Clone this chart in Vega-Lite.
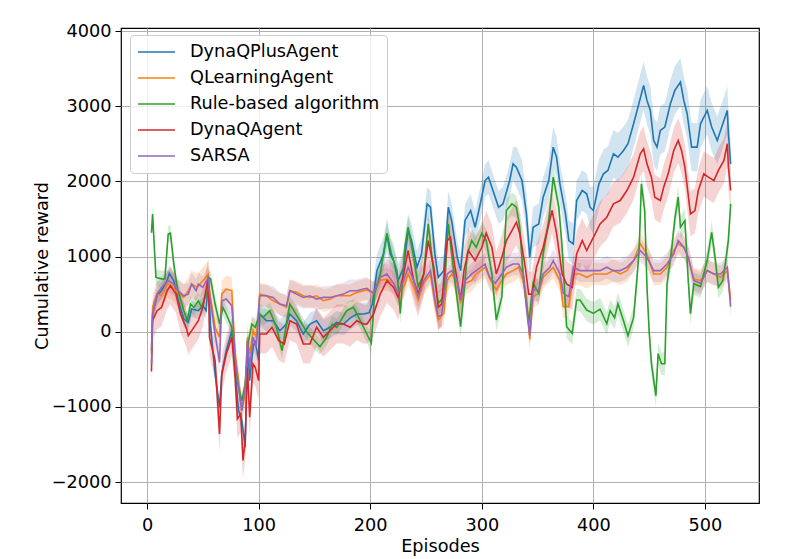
{
"$schema": "https://vega.github.io/schema/vega-lite/v6.json",
"width": 638, "height": 475,
"autosize": {"type": "none"},
"padding": {"left": 121, "top": 28, "right": 45, "bottom": 56},
"background": "white",
"config": {
 "font": "DejaVu Sans",
 "view": {"stroke": "black", "strokeWidth": 1.2},
 "axis": {"gridColor": "#b0b0b0", "gridWidth": 1, "gridOpacity": 1, "domain": false, "tickColor": "black", "tickSize": 6, "tickWidth": 1, "labelFontSize": 17.7, "labelColor": "black", "titleFontSize": 17.7, "titleFontWeight": "normal", "titleColor": "black", "labelFont": "DejaVu Sans", "titleFont": "DejaVu Sans"},
 "legend": {"orient": "none", "legendX": 9, "legendY": 7, "strokeColor": "#cccccc", "fillColor": "rgba(255,255,255,0.8)", "cornerRadius": 4, "padding": 7, "labelFontSize": 17.7, "labelColor": "black", "labelFont": "DejaVu Sans", "symbolType": "stroke", "symbolSize": 1369, "symbolStrokeWidth": 1.6, "labelOffset": 14, "rowPadding": 6, "clipHeight": 20, "labelLimit": 400}
},
"data": {"values": [
{"s":"DynaQPlusAgent","x":4,"y":-250,"e":110},{"s":"DynaQPlusAgent","x":5,"y":235,"e":110},{"s":"DynaQPlusAgent","x":9,"y":478,"e":110},{"s":"DynaQPlusAgent","x":13,"y":545,"e":110},{"s":"DynaQPlusAgent","x":18,"y":678,"e":110},{"s":"DynaQPlusAgent","x":20,"y":775,"e":110},{"s":"DynaQPlusAgent","x":24,"y":678,"e":110},{"s":"DynaQPlusAgent","x":28,"y":412,"e":110},{"s":"DynaQPlusAgent","x":33,"y":168,"e":110},{"s":"DynaQPlusAgent","x":37,"y":124,"e":110},{"s":"DynaQPlusAgent","x":40,"y":301,"e":110},{"s":"DynaQPlusAgent","x":46,"y":279,"e":110},{"s":"DynaQPlusAgent","x":50,"y":345,"e":110},{"s":"DynaQPlusAgent","x":53,"y":279,"e":110},{"s":"DynaQPlusAgent","x":55,"y":690,"e":110},{"s":"DynaQPlusAgent","x":57,"y":60,"e":110},{"s":"DynaQPlusAgent","x":61,"y":-563,"e":110},{"s":"DynaQPlusAgent","x":65,"y":-1006,"e":110},{"s":"DynaQPlusAgent","x":67,"y":-563,"e":110},{"s":"DynaQPlusAgent","x":71,"y":-252,"e":110},{"s":"DynaQPlusAgent","x":76,"y":13,"e":110},{"s":"DynaQPlusAgent","x":79,"y":-518,"e":110},{"s":"DynaQPlusAgent","x":82,"y":-1050,"e":110},{"s":"DynaQPlusAgent","x":85,"y":-1183,"e":110},{"s":"DynaQPlusAgent","x":88,"y":-1537,"e":110},{"s":"DynaQPlusAgent","x":90,"y":-120,"e":110},{"s":"DynaQPlusAgent","x":92,"y":-651,"e":110},{"s":"DynaQPlusAgent","x":95,"y":-208,"e":110},{"s":"DynaQPlusAgent","x":97,"y":-120,"e":110},{"s":"DynaQPlusAgent","x":100,"y":-385,"e":110},{"s":"DynaQPlusAgent","x":101,"y":235,"e":150},{"s":"DynaQPlusAgent","x":107,"y":146,"e":150},{"s":"DynaQPlusAgent","x":113,"y":146,"e":150},{"s":"DynaQPlusAgent","x":119,"y":13,"e":150},{"s":"DynaQPlusAgent","x":125,"y":102,"e":150},{"s":"DynaQPlusAgent","x":128,"y":235,"e":150},{"s":"DynaQPlusAgent","x":134,"y":146,"e":150},{"s":"DynaQPlusAgent","x":140,"y":-31,"e":150},{"s":"DynaQPlusAgent","x":146,"y":102,"e":150},{"s":"DynaQPlusAgent","x":152,"y":146,"e":150},{"s":"DynaQPlusAgent","x":158,"y":13,"e":150},{"s":"DynaQPlusAgent","x":164,"y":58,"e":150},{"s":"DynaQPlusAgent","x":170,"y":124,"e":150},{"s":"DynaQPlusAgent","x":176,"y":102,"e":150},{"s":"DynaQPlusAgent","x":182,"y":180,"e":150},{"s":"DynaQPlusAgent","x":188,"y":235,"e":150},{"s":"DynaQPlusAgent","x":194,"y":235,"e":150},{"s":"DynaQPlusAgent","x":199,"y":250,"e":150},{"s":"DynaQPlusAgent","x":202,"y":370,"e":220},{"s":"DynaQPlusAgent","x":206,"y":810,"e":220},{"s":"DynaQPlusAgent","x":212,"y":1035,"e":220},{"s":"DynaQPlusAgent","x":215,"y":1290,"e":220},{"s":"DynaQPlusAgent","x":218,"y":1035,"e":220},{"s":"DynaQPlusAgent","x":221,"y":945,"e":220},{"s":"DynaQPlusAgent","x":225,"y":680,"e":220},{"s":"DynaQPlusAgent","x":230,"y":857,"e":220},{"s":"DynaQPlusAgent","x":234,"y":1345,"e":220},{"s":"DynaQPlusAgent","x":237,"y":1212,"e":220},{"s":"DynaQPlusAgent","x":242,"y":857,"e":220},{"s":"DynaQPlusAgent","x":246,"y":1035,"e":220},{"s":"DynaQPlusAgent","x":251,"y":1700,"e":220},{"s":"DynaQPlusAgent","x":254,"y":1656,"e":220},{"s":"DynaQPlusAgent","x":258,"y":1035,"e":220},{"s":"DynaQPlusAgent","x":261,"y":724,"e":220},{"s":"DynaQPlusAgent","x":266,"y":812,"e":220},{"s":"DynaQPlusAgent","x":270,"y":1656,"e":220},{"s":"DynaQPlusAgent","x":273,"y":1480,"e":220},{"s":"DynaQPlusAgent","x":278,"y":990,"e":220},{"s":"DynaQPlusAgent","x":281,"y":812,"e":220},{"s":"DynaQPlusAgent","x":285,"y":1480,"e":220},{"s":"DynaQPlusAgent","x":290,"y":1612,"e":220},{"s":"DynaQPlusAgent","x":294,"y":1390,"e":220},{"s":"DynaQPlusAgent","x":298,"y":1656,"e":220},{"s":"DynaQPlusAgent","x":303,"y":2011,"e":220},{"s":"DynaQPlusAgent","x":306,"y":2056,"e":220},{"s":"DynaQPlusAgent","x":310,"y":1878,"e":220},{"s":"DynaQPlusAgent","x":315,"y":1656,"e":220},{"s":"DynaQPlusAgent","x":319,"y":1700,"e":220},{"s":"DynaQPlusAgent","x":325,"y":2011,"e":220},{"s":"DynaQPlusAgent","x":328,"y":2233,"e":220},{"s":"DynaQPlusAgent","x":331,"y":2189,"e":270},{"s":"DynaQPlusAgent","x":336,"y":2011,"e":270},{"s":"DynaQPlusAgent","x":340,"y":1567,"e":270},{"s":"DynaQPlusAgent","x":343,"y":990,"e":270},{"s":"DynaQPlusAgent","x":346,"y":1390,"e":270},{"s":"DynaQPlusAgent","x":351,"y":1434,"e":270},{"s":"DynaQPlusAgent","x":355,"y":1789,"e":270},{"s":"DynaQPlusAgent","x":360,"y":2011,"e":270},{"s":"DynaQPlusAgent","x":364,"y":2455,"e":270},{"s":"DynaQPlusAgent","x":367,"y":2322,"e":270},{"s":"DynaQPlusAgent","x":370,"y":1967,"e":270},{"s":"DynaQPlusAgent","x":375,"y":1567,"e":270},{"s":"DynaQPlusAgent","x":378,"y":1212,"e":270},{"s":"DynaQPlusAgent","x":382,"y":1168,"e":270},{"s":"DynaQPlusAgent","x":385,"y":1745,"e":270},{"s":"DynaQPlusAgent","x":390,"y":1878,"e":270},{"s":"DynaQPlusAgent","x":394,"y":1834,"e":270},{"s":"DynaQPlusAgent","x":397,"y":1656,"e":270},{"s":"DynaQPlusAgent","x":400,"y":1612,"e":320},{"s":"DynaQPlusAgent","x":405,"y":1967,"e":320},{"s":"DynaQPlusAgent","x":409,"y":2100,"e":320},{"s":"DynaQPlusAgent","x":413,"y":2145,"e":320},{"s":"DynaQPlusAgent","x":418,"y":2367,"e":320},{"s":"DynaQPlusAgent","x":422,"y":2322,"e":320},{"s":"DynaQPlusAgent","x":427,"y":2411,"e":320},{"s":"DynaQPlusAgent","x":431,"y":2500,"e":320},{"s":"DynaQPlusAgent","x":436,"y":2766,"e":320},{"s":"DynaQPlusAgent","x":440,"y":2988,"e":320},{"s":"DynaQPlusAgent","x":445,"y":3277,"e":320},{"s":"DynaQPlusAgent","x":448,"y":3077,"e":320},{"s":"DynaQPlusAgent","x":451,"y":2944,"e":320},{"s":"DynaQPlusAgent","x":454,"y":2544,"e":320},{"s":"DynaQPlusAgent","x":457,"y":2455,"e":320},{"s":"DynaQPlusAgent","x":460,"y":2678,"e":320},{"s":"DynaQPlusAgent","x":464,"y":2722,"e":320},{"s":"DynaQPlusAgent","x":469,"y":3033,"e":320},{"s":"DynaQPlusAgent","x":473,"y":3210,"e":320},{"s":"DynaQPlusAgent","x":478,"y":3321,"e":320},{"s":"DynaQPlusAgent","x":481,"y":3077,"e":320},{"s":"DynaQPlusAgent","x":484,"y":2900,"e":320},{"s":"DynaQPlusAgent","x":488,"y":2455,"e":320},{"s":"DynaQPlusAgent","x":493,"y":2455,"e":320},{"s":"DynaQPlusAgent","x":496,"y":2766,"e":320},{"s":"DynaQPlusAgent","x":502,"y":2944,"e":320},{"s":"DynaQPlusAgent","x":506,"y":2722,"e":320},{"s":"DynaQPlusAgent","x":511,"y":2544,"e":320},{"s":"DynaQPlusAgent","x":515,"y":2722,"e":320},{"s":"DynaQPlusAgent","x":520,"y":2944,"e":320},{"s":"DynaQPlusAgent","x":521,"y":2633,"e":320},{"s":"DynaQPlusAgent","x":523,"y":2233,"e":320},
{"s":"QLearningAgent","x":4,"y":-300,"e":180},{"s":"QLearningAgent","x":5,"y":323,"e":180},{"s":"QLearningAgent","x":9,"y":500,"e":180},{"s":"QLearningAgent","x":13,"y":478,"e":180},{"s":"QLearningAgent","x":18,"y":633,"e":180},{"s":"QLearningAgent","x":22,"y":611,"e":180},{"s":"QLearningAgent","x":27,"y":523,"e":180},{"s":"QLearningAgent","x":33,"y":456,"e":180},{"s":"QLearningAgent","x":37,"y":545,"e":180},{"s":"QLearningAgent","x":40,"y":633,"e":180},{"s":"QLearningAgent","x":45,"y":589,"e":180},{"s":"QLearningAgent","x":50,"y":678,"e":180},{"s":"QLearningAgent","x":55,"y":766,"e":180},{"s":"QLearningAgent","x":56,"y":545,"e":180},{"s":"QLearningAgent","x":61,"y":58,"e":180},{"s":"QLearningAgent","x":65,"y":-75,"e":180},{"s":"QLearningAgent","x":67,"y":500,"e":180},{"s":"QLearningAgent","x":71,"y":567,"e":180},{"s":"QLearningAgent","x":76,"y":545,"e":180},{"s":"QLearningAgent","x":79,"y":-297,"e":180},{"s":"QLearningAgent","x":82,"y":-651,"e":180},{"s":"QLearningAgent","x":85,"y":-1050,"e":180},{"s":"QLearningAgent","x":88,"y":-829,"e":180},{"s":"QLearningAgent","x":90,"y":-75,"e":180},{"s":"QLearningAgent","x":92,"y":-297,"e":180},{"s":"QLearningAgent","x":95,"y":13,"e":180},{"s":"QLearningAgent","x":98,"y":-75,"e":180},{"s":"QLearningAgent","x":101,"y":500,"e":150},{"s":"QLearningAgent","x":107,"y":478,"e":150},{"s":"QLearningAgent","x":113,"y":412,"e":150},{"s":"QLearningAgent","x":119,"y":368,"e":150},{"s":"QLearningAgent","x":125,"y":323,"e":150},{"s":"QLearningAgent","x":128,"y":545,"e":150},{"s":"QLearningAgent","x":134,"y":523,"e":150},{"s":"QLearningAgent","x":140,"y":478,"e":150},{"s":"QLearningAgent","x":146,"y":456,"e":150},{"s":"QLearningAgent","x":152,"y":478,"e":150},{"s":"QLearningAgent","x":158,"y":412,"e":150},{"s":"QLearningAgent","x":164,"y":434,"e":150},{"s":"QLearningAgent","x":170,"y":478,"e":150},{"s":"QLearningAgent","x":176,"y":478,"e":150},{"s":"QLearningAgent","x":182,"y":478,"e":150},{"s":"QLearningAgent","x":188,"y":523,"e":150},{"s":"QLearningAgent","x":194,"y":545,"e":150},{"s":"QLearningAgent","x":197,"y":555,"e":150},{"s":"QLearningAgent","x":203,"y":510,"e":150},{"s":"QLearningAgent","x":209,"y":680,"e":150},{"s":"QLearningAgent","x":215,"y":700,"e":150},{"s":"QLearningAgent","x":221,"y":644,"e":150},{"s":"QLearningAgent","x":225,"y":488,"e":150},{"s":"QLearningAgent","x":230,"y":600,"e":150},{"s":"QLearningAgent","x":234,"y":768,"e":150},{"s":"QLearningAgent","x":239,"y":600,"e":150},{"s":"QLearningAgent","x":243,"y":422,"e":150},{"s":"QLearningAgent","x":248,"y":644,"e":150},{"s":"QLearningAgent","x":254,"y":768,"e":150},{"s":"QLearningAgent","x":258,"y":378,"e":150},{"s":"QLearningAgent","x":261,"y":155,"e":150},{"s":"QLearningAgent","x":266,"y":244,"e":150},{"s":"QLearningAgent","x":269,"y":680,"e":150},{"s":"QLearningAgent","x":273,"y":768,"e":150},{"s":"QLearningAgent","x":278,"y":644,"e":150},{"s":"QLearningAgent","x":281,"y":378,"e":150},{"s":"QLearningAgent","x":285,"y":644,"e":150},{"s":"QLearningAgent","x":291,"y":680,"e":150},{"s":"QLearningAgent","x":295,"y":768,"e":150},{"s":"QLearningAgent","x":303,"y":857,"e":150},{"s":"QLearningAgent","x":308,"y":680,"e":150},{"s":"QLearningAgent","x":313,"y":555,"e":150},{"s":"QLearningAgent","x":318,"y":680,"e":150},{"s":"QLearningAgent","x":322,"y":768,"e":150},{"s":"QLearningAgent","x":328,"y":812,"e":150},{"s":"QLearningAgent","x":333,"y":857,"e":150},{"s":"QLearningAgent","x":337,"y":680,"e":150},{"s":"QLearningAgent","x":340,"y":466,"e":150},{"s":"QLearningAgent","x":343,"y":-100,"e":150},{"s":"QLearningAgent","x":346,"y":466,"e":150},{"s":"QLearningAgent","x":351,"y":510,"e":150},{"s":"QLearningAgent","x":355,"y":724,"e":150},{"s":"QLearningAgent","x":361,"y":812,"e":150},{"s":"QLearningAgent","x":364,"y":857,"e":150},{"s":"QLearningAgent","x":370,"y":680,"e":150},{"s":"QLearningAgent","x":373,"y":333,"e":150},{"s":"QLearningAgent","x":378,"y":333,"e":150},{"s":"QLearningAgent","x":382,"y":768,"e":150},{"s":"QLearningAgent","x":388,"y":768,"e":150},{"s":"QLearningAgent","x":394,"y":724,"e":150},{"s":"QLearningAgent","x":400,"y":768,"e":150},{"s":"QLearningAgent","x":406,"y":768,"e":150},{"s":"QLearningAgent","x":412,"y":768,"e":150},{"s":"QLearningAgent","x":418,"y":812,"e":150},{"s":"QLearningAgent","x":424,"y":768,"e":150},{"s":"QLearningAgent","x":430,"y":812,"e":150},{"s":"QLearningAgent","x":436,"y":945,"e":150},{"s":"QLearningAgent","x":442,"y":1168,"e":150},{"s":"QLearningAgent","x":448,"y":1035,"e":150},{"s":"QLearningAgent","x":454,"y":768,"e":150},{"s":"QLearningAgent","x":460,"y":768,"e":150},{"s":"QLearningAgent","x":466,"y":857,"e":150},{"s":"QLearningAgent","x":472,"y":1080,"e":150},{"s":"QLearningAgent","x":476,"y":1168,"e":150},{"s":"QLearningAgent","x":481,"y":1123,"e":150},{"s":"QLearningAgent","x":485,"y":990,"e":150},{"s":"QLearningAgent","x":490,"y":702,"e":150},{"s":"QLearningAgent","x":496,"y":680,"e":150},{"s":"QLearningAgent","x":502,"y":812,"e":150},{"s":"QLearningAgent","x":508,"y":768,"e":150},{"s":"QLearningAgent","x":514,"y":724,"e":150},{"s":"QLearningAgent","x":520,"y":812,"e":150},{"s":"QLearningAgent","x":523,"y":422,"e":150},
{"s":"Rule-based algorithm","x":4,"y":1317,"e":110},{"s":"Rule-based algorithm","x":5,"y":1565,"e":110},{"s":"Rule-based algorithm","x":8,"y":722,"e":110},{"s":"Rule-based algorithm","x":13,"y":703,"e":110},{"s":"Rule-based algorithm","x":16,"y":703,"e":110},{"s":"Rule-based algorithm","x":19,"y":1299,"e":110},{"s":"Rule-based algorithm","x":21,"y":1310,"e":110},{"s":"Rule-based algorithm","x":24,"y":900,"e":110},{"s":"Rule-based algorithm","x":27,"y":590,"e":110},{"s":"Rule-based algorithm","x":33,"y":280,"e":110},{"s":"Rule-based algorithm","x":36,"y":146,"e":110},{"s":"Rule-based algorithm","x":39,"y":368,"e":110},{"s":"Rule-based algorithm","x":42,"y":324,"e":110},{"s":"Rule-based algorithm","x":46,"y":412,"e":110},{"s":"Rule-based algorithm","x":49,"y":324,"e":110},{"s":"Rule-based algorithm","x":54,"y":545,"e":110},{"s":"Rule-based algorithm","x":55,"y":722,"e":110},{"s":"Rule-based algorithm","x":57,"y":700,"e":110},{"s":"Rule-based algorithm","x":61,"y":368,"e":110},{"s":"Rule-based algorithm","x":65,"y":104,"e":110},{"s":"Rule-based algorithm","x":68,"y":324,"e":110},{"s":"Rule-based algorithm","x":71,"y":235,"e":110},{"s":"Rule-based algorithm","x":76,"y":58,"e":110},{"s":"Rule-based algorithm","x":79,"y":-475,"e":110},{"s":"Rule-based algorithm","x":82,"y":-741,"e":110},{"s":"Rule-based algorithm","x":85,"y":-918,"e":110},{"s":"Rule-based algorithm","x":88,"y":-700,"e":110},{"s":"Rule-based algorithm","x":91,"y":-120,"e":110},{"s":"Rule-based algorithm","x":94,"y":100,"e":110},{"s":"Rule-based algorithm","x":97,"y":58,"e":110},{"s":"Rule-based algorithm","x":101,"y":236,"e":110},{"s":"Rule-based algorithm","x":104,"y":190,"e":110},{"s":"Rule-based algorithm","x":110,"y":280,"e":110},{"s":"Rule-based algorithm","x":116,"y":60,"e":110},{"s":"Rule-based algorithm","x":121,"y":-253,"e":110},{"s":"Rule-based algorithm","x":128,"y":368,"e":110},{"s":"Rule-based algorithm","x":137,"y":146,"e":110},{"s":"Rule-based algorithm","x":143,"y":0,"e":110},{"s":"Rule-based algorithm","x":155,"y":-200,"e":110},{"s":"Rule-based algorithm","x":161,"y":-75,"e":110},{"s":"Rule-based algorithm","x":166,"y":100,"e":110},{"s":"Rule-based algorithm","x":170,"y":58,"e":110},{"s":"Rule-based algorithm","x":179,"y":280,"e":110},{"s":"Rule-based algorithm","x":185,"y":324,"e":110},{"s":"Rule-based algorithm","x":191,"y":150,"e":110},{"s":"Rule-based algorithm","x":197,"y":-31,"e":110},{"s":"Rule-based algorithm","x":201,"y":-150,"e":150},{"s":"Rule-based algorithm","x":204,"y":510,"e":150},{"s":"Rule-based algorithm","x":209,"y":768,"e":150},{"s":"Rule-based algorithm","x":215,"y":1310,"e":150},{"s":"Rule-based algorithm","x":219,"y":1035,"e":150},{"s":"Rule-based algorithm","x":224,"y":812,"e":150},{"s":"Rule-based algorithm","x":227,"y":244,"e":150},{"s":"Rule-based algorithm","x":231,"y":1123,"e":150},{"s":"Rule-based algorithm","x":234,"y":1390,"e":150},{"s":"Rule-based algorithm","x":239,"y":990,"e":150},{"s":"Rule-based algorithm","x":243,"y":600,"e":150},{"s":"Rule-based algorithm","x":248,"y":768,"e":150},{"s":"Rule-based algorithm","x":252,"y":1434,"e":150},{"s":"Rule-based algorithm","x":257,"y":768,"e":150},{"s":"Rule-based algorithm","x":261,"y":378,"e":150},{"s":"Rule-based algorithm","x":266,"y":466,"e":150},{"s":"Rule-based algorithm","x":270,"y":1434,"e":150},{"s":"Rule-based algorithm","x":273,"y":1035,"e":150},{"s":"Rule-based algorithm","x":278,"y":422,"e":150},{"s":"Rule-based algorithm","x":281,"y":66,"e":150},{"s":"Rule-based algorithm","x":284,"y":510,"e":150},{"s":"Rule-based algorithm","x":287,"y":1035,"e":150},{"s":"Rule-based algorithm","x":291,"y":1212,"e":150},{"s":"Rule-based algorithm","x":295,"y":1123,"e":150},{"s":"Rule-based algorithm","x":300,"y":1310,"e":150},{"s":"Rule-based algorithm","x":304,"y":1212,"e":150},{"s":"Rule-based algorithm","x":309,"y":768,"e":150},{"s":"Rule-based algorithm","x":313,"y":155,"e":150},{"s":"Rule-based algorithm","x":318,"y":466,"e":150},{"s":"Rule-based algorithm","x":322,"y":1612,"e":150},{"s":"Rule-based algorithm","x":327,"y":1700,"e":150},{"s":"Rule-based algorithm","x":331,"y":1656,"e":150},{"s":"Rule-based algorithm","x":334,"y":1390,"e":150},{"s":"Rule-based algorithm","x":337,"y":768,"e":150},{"s":"Rule-based algorithm","x":342,"y":111,"e":150},{"s":"Rule-based algorithm","x":346,"y":644,"e":150},{"s":"Rule-based algorithm","x":351,"y":510,"e":150},{"s":"Rule-based algorithm","x":355,"y":1035,"e":150},{"s":"Rule-based algorithm","x":360,"y":1478,"e":150},{"s":"Rule-based algorithm","x":364,"y":2056,"e":150},{"s":"Rule-based algorithm","x":369,"y":1656,"e":150},{"s":"Rule-based algorithm","x":372,"y":1123,"e":150},{"s":"Rule-based algorithm","x":376,"y":66,"e":150},{"s":"Rule-based algorithm","x":381,"y":-22,"e":150},{"s":"Rule-based algorithm","x":385,"y":422,"e":150},{"s":"Rule-based algorithm","x":388,"y":422,"e":150},{"s":"Rule-based algorithm","x":394,"y":288,"e":150},{"s":"Rule-based algorithm","x":400,"y":244,"e":150},{"s":"Rule-based algorithm","x":406,"y":300,"e":150},{"s":"Rule-based algorithm","x":412,"y":106,"e":150},{"s":"Rule-based algorithm","x":415,"y":280,"e":150},{"s":"Rule-based algorithm","x":419,"y":186,"e":150},{"s":"Rule-based algorithm","x":422,"y":372,"e":150},{"s":"Rule-based algorithm","x":427,"y":146,"e":150},{"s":"Rule-based algorithm","x":431,"y":-53,"e":150},{"s":"Rule-based algorithm","x":436,"y":186,"e":150},{"s":"Rule-based algorithm","x":439,"y":700,"e":150},{"s":"Rule-based algorithm","x":441,"y":1100,"e":150},{"s":"Rule-based algorithm","x":443,"y":1967,"e":150},{"s":"Rule-based algorithm","x":446,"y":1612,"e":150},{"s":"Rule-based algorithm","x":448,"y":600,"e":150},{"s":"Rule-based algorithm","x":450,"y":0,"e":150},{"s":"Rule-based algorithm","x":452,"y":-426,"e":150},{"s":"Rule-based algorithm","x":456,"y":-851,"e":150},{"s":"Rule-based algorithm","x":458,"y":-293,"e":150},{"s":"Rule-based algorithm","x":461,"y":-426,"e":150},{"s":"Rule-based algorithm","x":464,"y":-426,"e":150},{"s":"Rule-based algorithm","x":466,"y":638,"e":150},{"s":"Rule-based algorithm","x":470,"y":1077,"e":150},{"s":"Rule-based algorithm","x":473,"y":1500,"e":150},{"s":"Rule-based algorithm","x":476,"y":1790,"e":150},{"s":"Rule-based algorithm","x":478,"y":1390,"e":150},{"s":"Rule-based algorithm","x":482,"y":1478,"e":150},{"s":"Rule-based algorithm","x":485,"y":680,"e":150},{"s":"Rule-based algorithm","x":487,"y":240,"e":150},{"s":"Rule-based algorithm","x":490,"y":638,"e":150},{"s":"Rule-based algorithm","x":496,"y":600,"e":150},{"s":"Rule-based algorithm","x":502,"y":950,"e":150},{"s":"Rule-based algorithm","x":506,"y":1320,"e":150},{"s":"Rule-based algorithm","x":509,"y":990,"e":150},{"s":"Rule-based algorithm","x":512,"y":590,"e":150},{"s":"Rule-based algorithm","x":516,"y":680,"e":150},{"s":"Rule-based algorithm","x":519,"y":984,"e":150},{"s":"Rule-based algorithm","x":521,"y":1221,"e":150},{"s":"Rule-based algorithm","x":523,"y":1700,"e":150},
{"s":"DynaQAgent","x":4,"y":-530,"e":250},{"s":"DynaQAgent","x":5,"y":146,"e":250},{"s":"DynaQAgent","x":9,"y":279,"e":250},{"s":"DynaQAgent","x":13,"y":323,"e":250},{"s":"DynaQAgent","x":18,"y":545,"e":250},{"s":"DynaQAgent","x":21,"y":611,"e":250},{"s":"DynaQAgent","x":26,"y":500,"e":250},{"s":"DynaQAgent","x":30,"y":235,"e":250},{"s":"DynaQAgent","x":35,"y":58,"e":250},{"s":"DynaQAgent","x":37,"y":-53,"e":250},{"s":"DynaQAgent","x":42,"y":58,"e":250},{"s":"DynaQAgent","x":46,"y":146,"e":250},{"s":"DynaQAgent","x":50,"y":323,"e":250},{"s":"DynaQAgent","x":55,"y":722,"e":250},{"s":"DynaQAgent","x":56,"y":-75,"e":250},{"s":"DynaQAgent","x":61,"y":-385,"e":250},{"s":"DynaQAgent","x":65,"y":-1360,"e":250},{"s":"DynaQAgent","x":67,"y":-563,"e":250},{"s":"DynaQAgent","x":71,"y":-297,"e":250},{"s":"DynaQAgent","x":76,"y":-75,"e":250},{"s":"DynaQAgent","x":79,"y":-607,"e":250},{"s":"DynaQAgent","x":81,"y":-1160,"e":250},{"s":"DynaQAgent","x":84,"y":-1094,"e":250},{"s":"DynaQAgent","x":86,"y":-1714,"e":250},{"s":"DynaQAgent","x":88,"y":-1449,"e":250},{"s":"DynaQAgent","x":90,"y":-474,"e":250},{"s":"DynaQAgent","x":92,"y":-1138,"e":250},{"s":"DynaQAgent","x":95,"y":-430,"e":250},{"s":"DynaQAgent","x":97,"y":-474,"e":250},{"s":"DynaQAgent","x":100,"y":-651,"e":250},{"s":"DynaQAgent","x":101,"y":-31,"e":260},{"s":"DynaQAgent","x":107,"y":-31,"e":260},{"s":"DynaQAgent","x":112,"y":58,"e":260},{"s":"DynaQAgent","x":118,"y":-120,"e":260},{"s":"DynaQAgent","x":123,"y":-164,"e":260},{"s":"DynaQAgent","x":128,"y":146,"e":260},{"s":"DynaQAgent","x":134,"y":102,"e":260},{"s":"DynaQAgent","x":140,"y":-164,"e":260},{"s":"DynaQAgent","x":146,"y":-164,"e":260},{"s":"DynaQAgent","x":152,"y":58,"e":260},{"s":"DynaQAgent","x":158,"y":-75,"e":260},{"s":"DynaQAgent","x":164,"y":13,"e":260},{"s":"DynaQAgent","x":170,"y":102,"e":260},{"s":"DynaQAgent","x":176,"y":102,"e":260},{"s":"DynaQAgent","x":182,"y":58,"e":260},{"s":"DynaQAgent","x":188,"y":146,"e":260},{"s":"DynaQAgent","x":194,"y":102,"e":260},{"s":"DynaQAgent","x":197,"y":100,"e":260},{"s":"DynaQAgent","x":203,"y":235,"e":300},{"s":"DynaQAgent","x":209,"y":500,"e":300},{"s":"DynaQAgent","x":215,"y":680,"e":300},{"s":"DynaQAgent","x":221,"y":590,"e":300},{"s":"DynaQAgent","x":225,"y":457,"e":300},{"s":"DynaQAgent","x":230,"y":768,"e":300},{"s":"DynaQAgent","x":234,"y":1080,"e":300},{"s":"DynaQAgent","x":239,"y":680,"e":300},{"s":"DynaQAgent","x":243,"y":500,"e":300},{"s":"DynaQAgent","x":248,"y":768,"e":300},{"s":"DynaQAgent","x":252,"y":1212,"e":300},{"s":"DynaQAgent","x":257,"y":857,"e":300},{"s":"DynaQAgent","x":261,"y":324,"e":300},{"s":"DynaQAgent","x":264,"y":368,"e":300},{"s":"DynaQAgent","x":269,"y":1212,"e":300},{"s":"DynaQAgent","x":272,"y":1256,"e":300},{"s":"DynaQAgent","x":276,"y":857,"e":300},{"s":"DynaQAgent","x":281,"y":422,"e":300},{"s":"DynaQAgent","x":284,"y":812,"e":300},{"s":"DynaQAgent","x":288,"y":1080,"e":300},{"s":"DynaQAgent","x":294,"y":945,"e":300},{"s":"DynaQAgent","x":300,"y":1123,"e":300},{"s":"DynaQAgent","x":304,"y":1310,"e":300},{"s":"DynaQAgent","x":309,"y":1123,"e":300},{"s":"DynaQAgent","x":313,"y":768,"e":300},{"s":"DynaQAgent","x":318,"y":990,"e":300},{"s":"DynaQAgent","x":322,"y":1212,"e":300},{"s":"DynaQAgent","x":327,"y":1345,"e":300},{"s":"DynaQAgent","x":331,"y":1456,"e":300},{"s":"DynaQAgent","x":334,"y":1310,"e":300},{"s":"DynaQAgent","x":339,"y":857,"e":300},{"s":"DynaQAgent","x":342,"y":500,"e":300},{"s":"DynaQAgent","x":345,"y":500,"e":300},{"s":"DynaQAgent","x":349,"y":857,"e":300},{"s":"DynaQAgent","x":355,"y":1123,"e":300},{"s":"DynaQAgent","x":363,"y":1612,"e":300},{"s":"DynaQAgent","x":367,"y":1310,"e":300},{"s":"DynaQAgent","x":372,"y":768,"e":300},{"s":"DynaQAgent","x":376,"y":635,"e":300},{"s":"DynaQAgent","x":381,"y":590,"e":300},{"s":"DynaQAgent","x":385,"y":1035,"e":300},{"s":"DynaQAgent","x":390,"y":1212,"e":300},{"s":"DynaQAgent","x":394,"y":1080,"e":300},{"s":"DynaQAgent","x":400,"y":1256,"e":300},{"s":"DynaQAgent","x":406,"y":1434,"e":300},{"s":"DynaQAgent","x":412,"y":1523,"e":300},{"s":"DynaQAgent","x":418,"y":1700,"e":300},{"s":"DynaQAgent","x":424,"y":1745,"e":300},{"s":"DynaQAgent","x":430,"y":1878,"e":300},{"s":"DynaQAgent","x":436,"y":2056,"e":300},{"s":"DynaQAgent","x":442,"y":2367,"e":300},{"s":"DynaQAgent","x":445,"y":2433,"e":300},{"s":"DynaQAgent","x":448,"y":2233,"e":300},{"s":"DynaQAgent","x":452,"y":2056,"e":300},{"s":"DynaQAgent","x":455,"y":1789,"e":300},{"s":"DynaQAgent","x":460,"y":1745,"e":300},{"s":"DynaQAgent","x":463,"y":1923,"e":300},{"s":"DynaQAgent","x":467,"y":2100,"e":300},{"s":"DynaQAgent","x":472,"y":2411,"e":300},{"s":"DynaQAgent","x":476,"y":2544,"e":300},{"s":"DynaQAgent","x":479,"y":2411,"e":300},{"s":"DynaQAgent","x":482,"y":2189,"e":300},{"s":"DynaQAgent","x":487,"y":1567,"e":300},{"s":"DynaQAgent","x":491,"y":1612,"e":300},{"s":"DynaQAgent","x":494,"y":1878,"e":300},{"s":"DynaQAgent","x":499,"y":2100,"e":300},{"s":"DynaQAgent","x":503,"y":2056,"e":300},{"s":"DynaQAgent","x":508,"y":2011,"e":300},{"s":"DynaQAgent","x":512,"y":2145,"e":300},{"s":"DynaQAgent","x":517,"y":2278,"e":300},{"s":"DynaQAgent","x":520,"y":2500,"e":300},{"s":"DynaQAgent","x":521,"y":2189,"e":300},{"s":"DynaQAgent","x":523,"y":1878,"e":300},
{"s":"SARSA","x":4,"y":-430,"e":150},{"s":"SARSA","x":5,"y":235,"e":150},{"s":"SARSA","x":9,"y":500,"e":150},{"s":"SARSA","x":13,"y":589,"e":150},{"s":"SARSA","x":19,"y":678,"e":150},{"s":"SARSA","x":24,"y":633,"e":150},{"s":"SARSA","x":28,"y":545,"e":150},{"s":"SARSA","x":33,"y":478,"e":150},{"s":"SARSA","x":37,"y":500,"e":150},{"s":"SARSA","x":40,"y":633,"e":150},{"s":"SARSA","x":44,"y":545,"e":150},{"s":"SARSA","x":46,"y":633,"e":150},{"s":"SARSA","x":50,"y":589,"e":150},{"s":"SARSA","x":55,"y":722,"e":150},{"s":"SARSA","x":56,"y":500,"e":150},{"s":"SARSA","x":61,"y":-31,"e":150},{"s":"SARSA","x":65,"y":-408,"e":150},{"s":"SARSA","x":67,"y":412,"e":150},{"s":"SARSA","x":71,"y":434,"e":150},{"s":"SARSA","x":76,"y":345,"e":150},{"s":"SARSA","x":79,"y":-341,"e":150},{"s":"SARSA","x":82,"y":-740,"e":150},{"s":"SARSA","x":85,"y":-1050,"e":150},{"s":"SARSA","x":88,"y":-740,"e":150},{"s":"SARSA","x":90,"y":-120,"e":150},{"s":"SARSA","x":92,"y":-474,"e":150},{"s":"SARSA","x":95,"y":-75,"e":150},{"s":"SARSA","x":98,"y":-208,"e":150},{"s":"SARSA","x":101,"y":478,"e":150},{"s":"SARSA","x":107,"y":478,"e":150},{"s":"SARSA","x":113,"y":456,"e":150},{"s":"SARSA","x":119,"y":368,"e":150},{"s":"SARSA","x":125,"y":345,"e":150},{"s":"SARSA","x":128,"y":545,"e":150},{"s":"SARSA","x":134,"y":500,"e":150},{"s":"SARSA","x":140,"y":456,"e":150},{"s":"SARSA","x":146,"y":478,"e":150},{"s":"SARSA","x":152,"y":434,"e":150},{"s":"SARSA","x":158,"y":456,"e":150},{"s":"SARSA","x":164,"y":456,"e":150},{"s":"SARSA","x":170,"y":478,"e":150},{"s":"SARSA","x":176,"y":500,"e":150},{"s":"SARSA","x":182,"y":545,"e":150},{"s":"SARSA","x":188,"y":545,"e":150},{"s":"SARSA","x":194,"y":567,"e":150},{"s":"SARSA","x":197,"y":577,"e":150},{"s":"SARSA","x":203,"y":510,"e":150},{"s":"SARSA","x":209,"y":724,"e":150},{"s":"SARSA","x":215,"y":768,"e":150},{"s":"SARSA","x":221,"y":644,"e":150},{"s":"SARSA","x":225,"y":510,"e":150},{"s":"SARSA","x":230,"y":680,"e":150},{"s":"SARSA","x":234,"y":857,"e":150},{"s":"SARSA","x":239,"y":680,"e":150},{"s":"SARSA","x":243,"y":466,"e":150},{"s":"SARSA","x":248,"y":680,"e":150},{"s":"SARSA","x":254,"y":812,"e":150},{"s":"SARSA","x":258,"y":422,"e":150},{"s":"SARSA","x":261,"y":200,"e":150},{"s":"SARSA","x":264,"y":222,"e":150},{"s":"SARSA","x":269,"y":768,"e":150},{"s":"SARSA","x":273,"y":812,"e":150},{"s":"SARSA","x":278,"y":680,"e":150},{"s":"SARSA","x":281,"y":422,"e":150},{"s":"SARSA","x":285,"y":680,"e":150},{"s":"SARSA","x":291,"y":768,"e":150},{"s":"SARSA","x":295,"y":812,"e":150},{"s":"SARSA","x":303,"y":901,"e":150},{"s":"SARSA","x":307,"y":724,"e":150},{"s":"SARSA","x":312,"y":644,"e":150},{"s":"SARSA","x":316,"y":724,"e":150},{"s":"SARSA","x":322,"y":857,"e":150},{"s":"SARSA","x":328,"y":901,"e":150},{"s":"SARSA","x":333,"y":901,"e":150},{"s":"SARSA","x":337,"y":768,"e":150},{"s":"SARSA","x":340,"y":333,"e":150},{"s":"SARSA","x":343,"y":-50,"e":150},{"s":"SARSA","x":346,"y":555,"e":150},{"s":"SARSA","x":351,"y":555,"e":150},{"s":"SARSA","x":355,"y":768,"e":150},{"s":"SARSA","x":361,"y":857,"e":150},{"s":"SARSA","x":364,"y":945,"e":150},{"s":"SARSA","x":370,"y":768,"e":150},{"s":"SARSA","x":373,"y":510,"e":150},{"s":"SARSA","x":378,"y":466,"e":150},{"s":"SARSA","x":382,"y":857,"e":150},{"s":"SARSA","x":388,"y":812,"e":150},{"s":"SARSA","x":394,"y":812,"e":150},{"s":"SARSA","x":400,"y":812,"e":150},{"s":"SARSA","x":406,"y":812,"e":150},{"s":"SARSA","x":412,"y":857,"e":150},{"s":"SARSA","x":418,"y":812,"e":150},{"s":"SARSA","x":424,"y":812,"e":150},{"s":"SARSA","x":430,"y":857,"e":150},{"s":"SARSA","x":436,"y":945,"e":150},{"s":"SARSA","x":442,"y":1080,"e":150},{"s":"SARSA","x":448,"y":990,"e":150},{"s":"SARSA","x":454,"y":812,"e":150},{"s":"SARSA","x":460,"y":812,"e":150},{"s":"SARSA","x":466,"y":901,"e":150},{"s":"SARSA","x":472,"y":1035,"e":150},{"s":"SARSA","x":476,"y":1212,"e":150},{"s":"SARSA","x":481,"y":1123,"e":150},{"s":"SARSA","x":485,"y":990,"e":150},{"s":"SARSA","x":490,"y":680,"e":150},{"s":"SARSA","x":496,"y":644,"e":150},{"s":"SARSA","x":502,"y":812,"e":150},{"s":"SARSA","x":508,"y":768,"e":150},{"s":"SARSA","x":514,"y":768,"e":150},{"s":"SARSA","x":520,"y":857,"e":150},{"s":"SARSA","x":523,"y":333,"e":150}
]},
"encoding": {
 "x": {"field": "x", "type": "quantitative", "scale": {"domain": [-23.3, 548.4], "nice": false, "zero": false},
  "axis": {"title": "Episodes", "values": [0,100,200,300,400,500], "labelPadding": 7, "titleX": 319, "titleY": 48, "titleBaseline": "alphabetic", "titleAlign": "center"}},
 "y": {"field": "y", "type": "quantitative", "scale": {"domain": [-2279, 4040], "nice": false, "zero": false},
  "axis": {"title": "Cumulative reward", "values": [-2000,-1000,0,1000,2000,3000,4000], "labelPadding": 4, "labelExpr": "replace(format(datum.value, 'd'), '-', '−')", "titleX": -74, "titleY": 237.5, "titleAngle": -90, "titleBaseline": "alphabetic", "titleAlign": "center"}}
},
"resolve": {"legend": {"color": "independent"}},
"layer": [
 {"mark": {"type": "errorband", "opacity": 0.2}, "encoding": {"yError": {"field": "e"}, "color": {"field": "s", "type": "nominal", "legend": null, "scale": {"domain": ["DynaQPlusAgent","QLearningAgent","Rule-based algorithm","DynaQAgent","SARSA"], "range": ["#1f77b4","#ff7f0e","#2ca02c","#d62728","#9467bd"]}}}},
 {"mark": {"type": "line", "strokeWidth": 1.6}, "encoding": {"color": {"field": "s", "type": "nominal", "legend": {"title": null}, "scale": {"domain": ["DynaQPlusAgent","QLearningAgent","Rule-based algorithm","DynaQAgent","SARSA"], "range": ["#1f77b4","#ff7f0e","#2ca02c","#d62728","#9467bd"]}}}}
]
}
